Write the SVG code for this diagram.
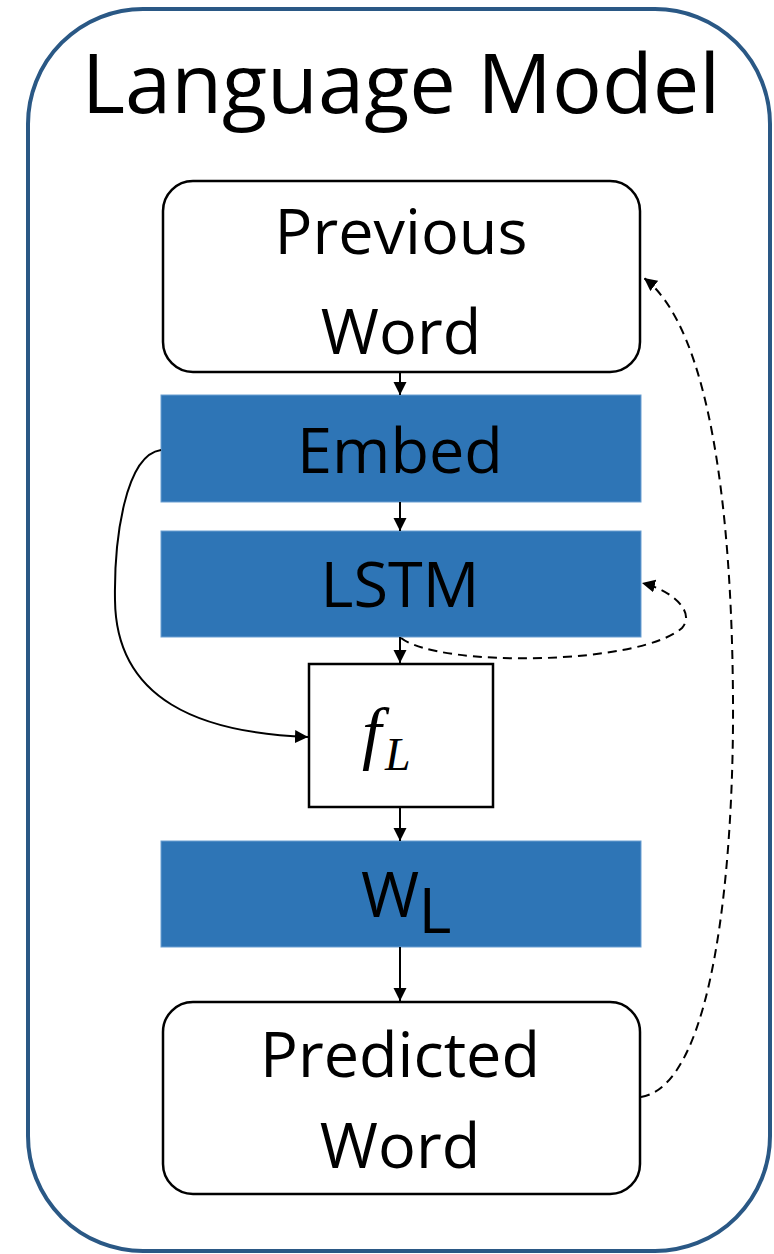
<svg xmlns="http://www.w3.org/2000/svg" width="774" height="1254" viewBox="0 0 774 1254">
  <defs>
    <marker id="arrow" markerUnits="userSpaceOnUse" markerWidth="14" markerHeight="14" refX="13" refY="6.5" orient="auto">
      <path d="M0,0 L13,6.5 L0,13 z" fill="#000"/>
    </marker>
    <style>
      .label { font-family: "Open Sans", "Noto Sans", sans-serif; font-size: 63px; fill: #000; text-anchor: middle; }
      .title { font-family: "Open Sans", "Noto Sans", sans-serif; font-size: 83px; fill: #000; text-anchor: middle; }
      .math { font-family: "Liberation Serif", "DejaVu Serif", serif; font-style: italic; fill: #000; }
      .word { fill: #fff; stroke: #000; stroke-width: 2.5; }
      .layer { fill: #2e75b6; stroke: #6a9fd2; stroke-width: 1; }
      .link { fill: none; stroke: #000; stroke-width: 2; }
      .dash { fill: none; stroke: #000; stroke-width: 2; stroke-dasharray: 9 6; }
    </style>
  </defs>

  <rect width="774" height="1254" fill="#fff"/>

  <!-- outer container -->
  <g id="language-model">
    <rect x="28" y="9" width="742" height="1242" rx="115" ry="115" fill="#fff" stroke="#2a5885" stroke-width="4"/>
    <text class="title" x="401" y="113">Language Model</text>
  </g>

  <g id="previous-word">
    <rect class="word" x="163" y="181" width="477" height="191" rx="30" ry="30"/>
    <text class="label" x="401" y="254">Previous</text>
    <text class="label" x="401" y="354">Word</text>
  </g>

  <g id="embed">
    <rect class="layer" x="161" y="395" width="480" height="107"/>
    <text class="label" x="400" y="473">Embed</text>
  </g>

  <g id="lstm">
    <rect class="layer" x="161" y="531" width="480" height="106"/>
    <text class="label" x="400" y="607">LSTM</text>
  </g>

  <g id="f-l">
    <rect x="309" y="664" width="184" height="143" fill="#fff" stroke="#000" stroke-width="2.5"/>
    <text class="math" x="362" y="756" font-size="70">f</text>
    <text class="math" x="385" y="770" font-size="46">L</text>
  </g>

  <g id="w-l">
    <rect class="layer" x="161" y="841" width="480" height="106"/>
    <text class="label" x="390" y="917">W</text>
    <text class="label" x="435" y="933" font-size="43">L</text>
  </g>

  <g id="predicted-word">
    <rect class="word" x="163" y="1002" width="477" height="192" rx="30" ry="30"/>
    <text class="label" x="400" y="1077">Predicted</text>
    <text class="label" x="400" y="1168">Word</text>
  </g>

  <!-- connectors -->
  <g id="connectors">
    <line class="link" x1="400" y1="373" x2="400" y2="395" marker-end="url(#arrow)"/>
    <line class="link" x1="400" y1="502" x2="400" y2="531" marker-end="url(#arrow)"/>
    <line class="link" x1="400" y1="637" x2="400" y2="663" marker-end="url(#arrow)"/>
    <line class="link" x1="400" y1="808" x2="400" y2="841" marker-end="url(#arrow)"/>
    <line class="link" x1="400" y1="947" x2="400" y2="1001" marker-end="url(#arrow)"/>

    <!-- skip connection from Embed into f_L -->
    <path class="link" d="M161,450 C125,455 114,540 115,600 C116,700 200,733 308,737" marker-end="url(#arrow)"/>

    <!-- recurrent state of the LSTM -->
    <path class="dash" d="M401,638 C440,668 640,665 682,628 C696,612 672,590 642,583" marker-end="url(#arrow)"/>

    <!-- prediction fed back as next input -->
    <path class="dash" d="M641,1097 C715,1085 734,860 733,700 C732,520 712,330 644,278" marker-end="url(#arrow)"/>
  </g>
</svg>
